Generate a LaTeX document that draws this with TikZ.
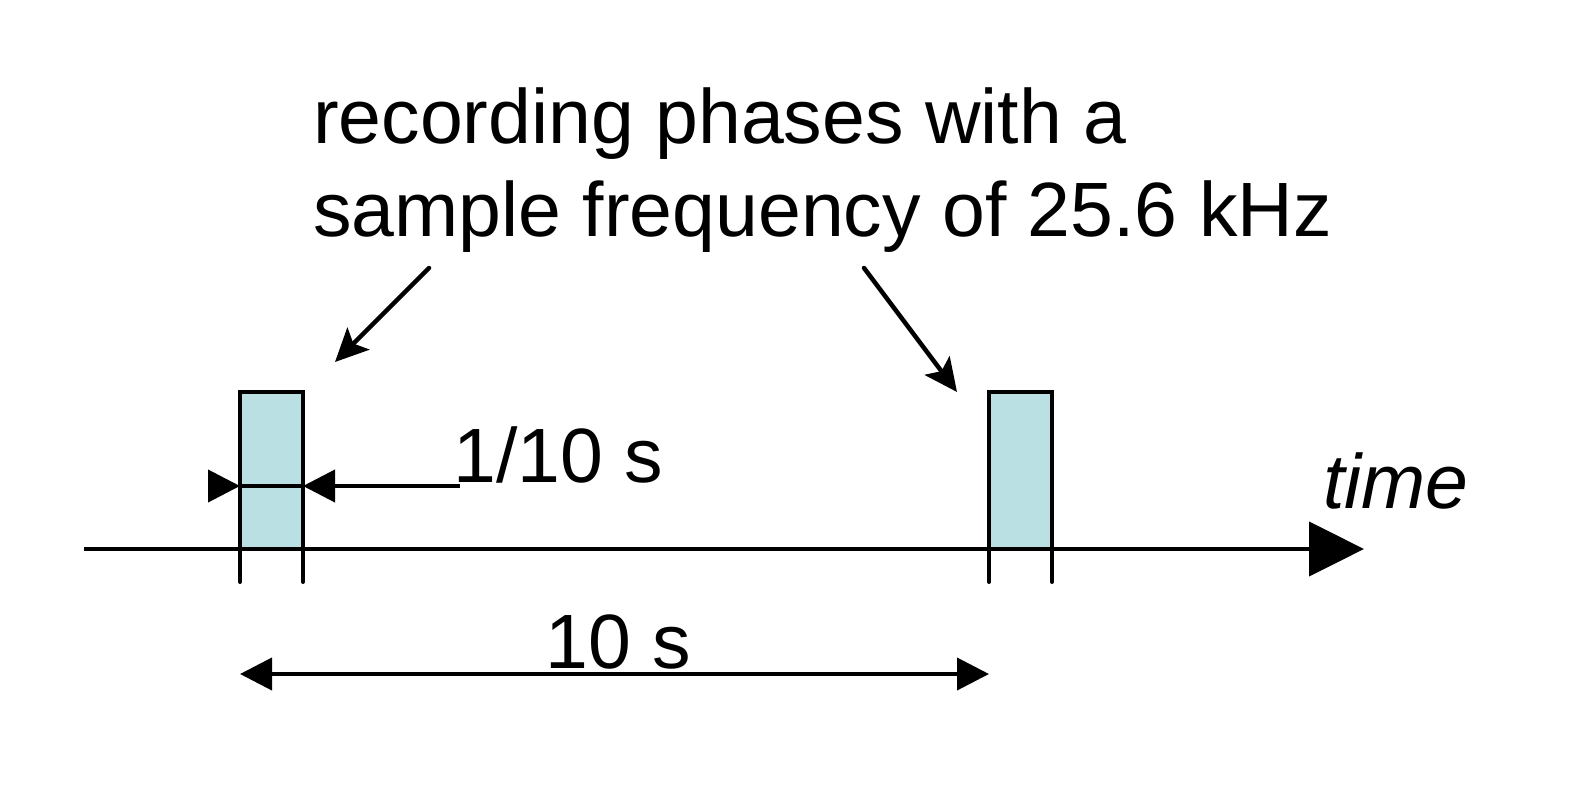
\documentclass[tikz,border=0pt]{standalone}
\usepackage{fontspec}
\setmainfont{Liberation Sans}
\usetikzlibrary{arrows.meta,positioning}
\definecolor{PhaseFill}{HTML}{BBE0E3}
\tikzset{
  phase/.style={rectangle, draw=black, line width=4pt, fill=PhaseFill,
    minimum width=63pt, minimum height=157pt, inner sep=0pt, outer sep=0pt,
    anchor=south west},
  axis/.style={-{Triangle[length=55pt,width=54pt]}, line width=4.5pt},
  dimarrow/.style={-{Triangle[length=32pt,width=32pt]}, line width=4pt},
  span/.style={{Triangle[length=32pt,width=32pt]}-{Triangle[length=32pt,width=32pt]}, line width=4pt},
  callout/.style={-{Stealth[length=33pt,width=31pt,inset=7pt]}, line width=4.5pt, line cap=round},
  tickline/.style={line width=4pt, line cap=round},
  textlbl/.style={font=\fontsize{77}{93}\selectfont, inner sep=0pt}
}
\begin{document}
\begin{tikzpicture}[x=1pt, y=-1pt]
  \useasboundingbox (0,0) rectangle (1584,795);
  \node[textlbl, align=left, anchor=north west] (title) at (313,88)
    {recording phases with a\\sample frequency of 25.6 kHz};
  \node[phase] (ph1) at (240,549) {};
  \node[phase] (ph2) at (989,549) {};
  \coordinate (start) at (84,549);
  \coordinate (end) at (1364,549);
  \draw[axis] (start) -- (end);
  \node[textlbl, anchor=base west] (time) at (1323,508) {\textit{time}};
  \draw[tickline] (ph1.south west) -- ++(0,33);
  \draw[tickline] (ph1.south east) -- ++(0,33);
  \draw[tickline] (ph2.south west) -- ++(0,33);
  \draw[tickline] (ph2.south east) -- ++(0,33);
  \coordinate (dl) at (208,486);
  \coordinate (dr) at (460,486);
  \node[textlbl, anchor=base west] (dur) at (453,482) {1/10 s};
  \draw[dimarrow] (dl) -- (dl -| ph1.west);
  \draw[line width=4pt] (dl -| ph1.west) -- (dl -| ph1.east);
  \draw[dimarrow] (dr) -- (dl -| ph1.east);
  \coordinate (pspan) at (0,674);
  \node[textlbl, anchor=base west] (period) at (545,668) {10 s};
  \draw[span] (ph1.west |- pspan) -- (ph2.west |- pspan);
  \coordinate (c1) at (429,268);
  \coordinate (h1) at (335,362);
  \coordinate (c2) at (864,268);
  \coordinate (h2) at (957,392);
  \draw[callout] (c1) -- (h1);
  \draw[callout] (c2) -- (h2);
\end{tikzpicture}
\end{document}
